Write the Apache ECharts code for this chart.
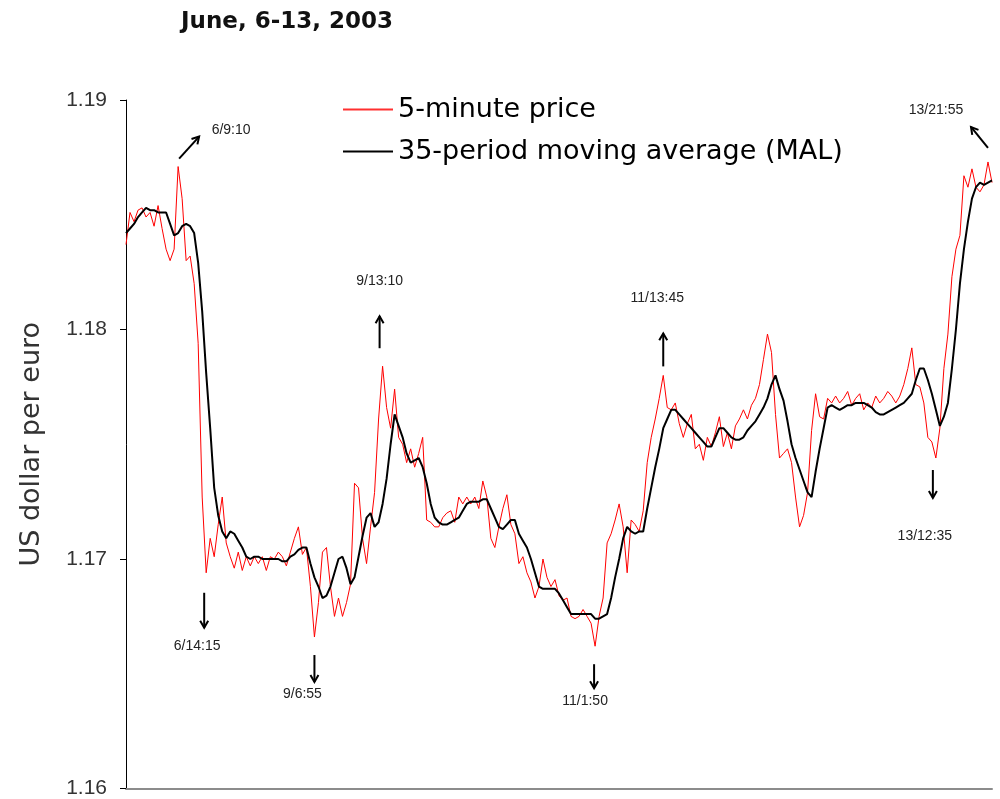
<!DOCTYPE html>
<html>
<head>
<meta charset="utf-8">
<title>June, 6-13, 2003</title>
<script src="https://cdn.jsdelivr.net/npm/echarts@6/dist/echarts.min.js"></script>
<style>
  html, body { margin: 0; padding: 0; background: #fff; }
  #chart_eur { width: 1000px; height: 799px; }
</style>
</head>
<body>
<div id="chart_eur"></div>
<script>
// 5-minute EUR/USD quotes (one value every few periods)
const price = [
  1.1837,1.1851,1.1847,1.1852,1.1853,1.1849,1.1851,1.1845,1.1854,1.1844,
  1.1835,1.1830,1.1835,1.1871,1.1857,1.1830,1.1832,1.1820,1.1794,1.1727,
  1.1694,1.1709,1.1701,1.1715,1.1727,1.1707,1.1701,1.1696,1.1703,1.1695,
  1.1701,1.1697,1.1701,1.1698,1.1701,1.1695,1.1701,1.1700,1.1703,1.1701,
  1.1697,1.1703,1.1709,1.1714,1.1702,1.1705,1.1688,1.1666,1.1681,1.1703,
  1.1705,1.1688,1.1675,1.1683,1.1675,1.1681,1.1689,1.1733,1.1731,1.1709,
  1.1698,1.1714,1.1729,1.1761,1.1784,1.1766,1.1757,1.1774,1.1753,1.1750,
  1.1742,1.1748,1.1740,1.1746,1.1753,1.1717,1.1716,1.1714,1.1714,1.1718,
  1.1720,1.1721,1.1716,1.1727,1.1724,1.1727,1.1724,1.1727,1.1722,1.1734,
  1.1727,1.1709,1.1705,1.1714,1.1722,1.1728,1.1715,1.1711,1.1698,1.1701,
  1.1694,1.1690,1.1683,1.1688,1.1700,1.1692,1.1688,1.1691,1.1684,1.1682,
  1.1683,1.1675,1.1674,1.1675,1.1678,1.1675,1.1672,1.1662,1.1675,1.1683,
  1.1707,1.1711,1.1717,1.1724,1.1714,1.1694,1.1717,1.1715,1.1712,1.1721,
  1.1742,1.1753,1.1761,1.1770,1.1780,1.1766,1.1765,1.1768,1.1759,1.1753,
  1.1759,1.1763,1.1748,1.1750,1.1743,1.1753,1.1749,1.1755,1.1762,1.1749,
  1.1755,1.1748,1.1758,1.1761,1.1765,1.1761,1.1767,1.1770,1.1776,1.1787,
  1.1798,1.1790,1.1763,1.1744,1.1746,1.1748,1.1742,1.1727,1.1714,1.1719,
  1.1729,1.1756,1.1772,1.1762,1.1761,1.1770,1.1768,1.1771,1.1768,1.1770,
  1.1773,1.1767,1.1770,1.1772,1.1765,1.1768,1.1766,1.1771,1.1768,1.1770,
  1.1773,1.1771,1.1768,1.1771,1.1776,1.1783,1.1792,1.1776,1.1775,1.1768,
  1.1753,1.1751,1.1744,1.1757,1.1783,1.1798,1.1823,1.1835,1.1841,1.1867,
  1.1862,1.1870,1.1862,1.1860,1.1863,1.1873,1.1864
];

// 35-period moving average (MAL), same periods
const mal = [
  1.1842,1.1844,1.1846,1.1849,1.1851,1.1853,1.1852,1.1852,1.1851,1.1851,
  1.1851,1.1846,1.1841,1.1842,1.1845,1.1846,1.1845,1.1842,1.1829,1.1808,
  1.1781,1.1757,1.1731,1.1719,1.1712,1.1709,1.1712,1.1711,1.1708,1.1705,
  1.1701,1.1700,1.1701,1.1701,1.1700,1.1700,1.1700,1.1700,1.1700,1.1699,
  1.1699,1.1701,1.1702,1.1704,1.1705,1.1705,1.1698,1.1692,1.1688,1.1683,
  1.1684,1.1688,1.1694,1.1700,1.1701,1.1696,1.1689,1.1692,1.1701,1.1710,
  1.1718,1.1720,1.1714,1.1716,1.1724,1.1735,1.1750,1.1763,1.1758,1.1753,
  1.1746,1.1742,1.1743,1.1744,1.1740,1.1733,1.1724,1.1718,1.1716,1.1715,
  1.1715,1.1716,1.1717,1.1718,1.1721,1.1724,1.1725,1.1725,1.1725,1.1726,
  1.1726,1.1722,1.1718,1.1714,1.1713,1.1715,1.1717,1.1717,1.1711,1.1708,
  1.1705,1.1700,1.1694,1.1688,1.1687,1.1687,1.1687,1.1687,1.1685,1.1682,
  1.1679,1.1676,1.1676,1.1676,1.1676,1.1676,1.1676,1.1674,1.1674,1.1675,
  1.1676,1.1683,1.1692,1.1700,1.1709,1.1714,1.1712,1.1711,1.1712,1.1712,
  1.1722,1.1731,1.1740,1.1748,1.1757,1.1761,1.1765,1.1765,1.1763,1.1761,
  1.1759,1.1757,1.1755,1.1753,1.1751,1.1749,1.1749,1.1753,1.1757,1.1757,
  1.1755,1.1753,1.1752,1.1752,1.1753,1.1756,1.1758,1.1760,1.1763,1.1766,
  1.1770,1.1776,1.1780,1.1774,1.1769,1.1760,1.1750,1.1744,1.1739,1.1734,
  1.1729,1.1727,1.1738,1.1748,1.1757,1.1766,1.1767,1.1766,1.1765,1.1766,
  1.1767,1.1767,1.1768,1.1768,1.1768,1.1767,1.1766,1.1764,1.1763,1.1763,
  1.1764,1.1765,1.1766,1.1767,1.1768,1.1770,1.1772,1.1778,1.1783,1.1783,
  1.1778,1.1772,1.1765,1.1758,1.1762,1.1768,1.1783,1.1800,1.1820,1.1835,
  1.1847,1.1857,1.1862,1.1864,1.1863,1.1864,1.1865
];

const periods = price.map((v, i) => i);
const yTicks = [1.16, 1.17, 1.18, 1.19];

// turning points marked on the chart: idx = period of the price extreme
// tail/head/label are pixel offsets from that point
const notes = [
  { text: '6/9:10',   idx: 13,  tail: [1, -8],   head: [21, -30],  label: [53, -36] },
  { text: '6/14:15',  idx: 20,  tail: [-2, 20],  head: [-2, 55],   label: [-9, 73] },
  { text: '9/6:55',   idx: 47,  tail: [0, 18],   head: [0, 45],    label: [-12, 57] },
  { text: '9/13:10',  idx: 64,  tail: [-3, -18], head: [-3, -50],  label: [-3, -85] },
  { text: '11/1:50',  idx: 117, tail: [-1, 18],  head: [-1, 42],   label: [-10, 55] },
  { text: '11/13:45', idx: 134, tail: [0, -9],   head: [0, -42],   label: [-6, -77] },
  { text: '13/12:35', idx: 202, tail: [-3, 12],  head: [-3, 40],   label: [-11, 78] },
  { text: '13/21:55', idx: 215, tail: [0, -14],  head: [-17, -35], label: [-52, -52] }
];

let myChart = echarts.init(document.getElementById('chart_eur'));

let option = {
  animation: false,
  backgroundColor: '#fff',
  title: {
    text: 'June, 6-13, 2003',
    left: 181,
    top: 11,
    padding: 0,
    textStyle: {
      fontFamily: 'DejaVu Sans',
      fontSize: 23,
      fontWeight: 'bold',
      color: '#111'
    }
  },
  legend: {
    orient: 'vertical',
    left: 343,
    top: 95,
    padding: 0,
    icon: 'rect',
    itemWidth: 50,
    itemHeight: 2,
    itemGap: 13,
    data: ['5-minute price', '35-period moving average (MAL)'],
    textStyle: {
      fontFamily: 'DejaVu Sans',
      fontSize: 27,
      lineHeight: 29,
      color: '#000'
    }
  },
  grid: {
    left: 126,
    right: 8,
    top: 100,
    bottom: 7
  },
  xAxis: {
    type: 'category',
    data: periods,
    boundaryGap: false,
    axisLine: {
      onZero: false,
      lineStyle: { color: '#8c8c8c', width: 2 }
    },
    axisTick: { show: false },
    axisLabel: { show: false },
    splitLine: { show: false }
  },
  yAxis: {
    type: 'value',
    min: yTicks[0],
    max: yTicks[yTicks.length - 1],
    interval: 0.01,
    name: 'US dollar per euro',
    nameLocation: 'middle',
    nameRotate: 90,
    nameGap: 81,
    nameTextStyle: {
      fontFamily: 'DejaVu Sans',
      fontSize: 27,
      color: '#333'
    },
    axisLine: {
      show: true,
      lineStyle: { color: '#000', width: 1 }
    },
    axisTick: {
      show: true,
      length: 6,
      lineStyle: { color: '#000' }
    },
    axisLabel: {
      margin: 19,
      fontFamily: 'Liberation Sans',
      fontSize: 21,
      color: '#333',
      formatter: v => v.toFixed(2)
    },
    splitLine: { show: false }
  },
  series: [{
    name: '5-minute price',
    type: 'line',
    data: price,
    symbol: 'none',
    lineStyle: { color: '#ff0000', width: 1 },
    itemStyle: { color: '#ff3030' }
  }, {
    name: '35-period moving average (MAL)',
    type: 'line',
    data: mal,
    symbol: 'none',
    lineStyle: { color: '#000', width: 2 },
    itemStyle: { color: '#000' }
  }]
};

myChart.setOption(option);

// arrows + time labels for the turning points
function arrow(x1, y1, x2, y2) {
  let a = Math.atan2(y2 - y1, x2 - x1);
  let len = 8, spread = Math.PI / 6;
  let p1 = [x2 - len * Math.cos(a - spread), y2 - len * Math.sin(a - spread)];
  let p2 = [x2 - len * Math.cos(a + spread), y2 - len * Math.sin(a + spread)];
  return [{
    type: 'line',
    shape: { x1: x1, y1: y1, x2: x2, y2: y2 },
    style: { stroke: '#000', lineWidth: 2 }
  }, {
    type: 'polyline',
    shape: { points: [p1, [x2, y2], p2] },
    style: { stroke: '#000', lineWidth: 2, fill: null }
  }];
}

let elements = [];
notes.forEach(n => {
  let p = myChart.convertToPixel({ seriesIndex: 0 }, [n.idx, price[n.idx]]);
  elements = elements.concat(arrow(p[0] + n.tail[0], p[1] + n.tail[1], p[0] + n.head[0], p[1] + n.head[1]));
  elements.push({
    type: 'text',
    x: p[0] + n.label[0],
    y: p[1] + n.label[1],
    style: {
      text: n.text,
      fontFamily: 'Liberation Sans',
      fontSize: 14,
      fill: '#222',
      align: 'center',
      verticalAlign: 'middle'
    }
  });
});
myChart.setOption({ graphic: { elements: elements } });

window.addEventListener('resize', () => {
  myChart.resize();
});
</script>
</body>
</html>
